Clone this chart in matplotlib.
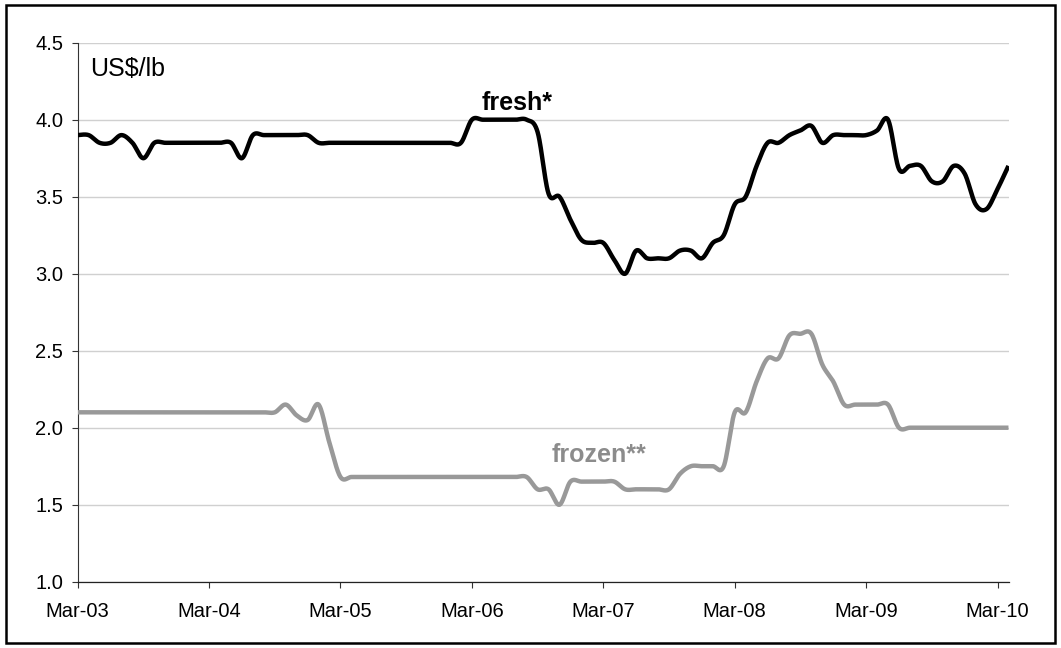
import numpy as np
import matplotlib.pyplot as plt
from matplotlib.patches import Rectangle

plt.rcParams['font.family'] = ['Liberation Sans', 'DejaVu Sans']

# monthly prices, Mar-03 .. Mar-10 (US$/lb)
fresh = [
    3.90, 3.90, 3.85, 3.85, 3.90, 3.85, 3.75, 3.85, 3.85, 3.85,
    3.85, 3.85, 3.85, 3.85, 3.85, 3.75, 3.90, 3.90, 3.90, 3.90,
    3.90, 3.90, 3.85, 3.85, 3.85, 3.85, 3.85, 3.85, 3.85, 3.85,
    3.85, 3.85, 3.85, 3.85, 3.85, 3.85, 4.00, 4.00, 4.00, 4.00,
    4.00, 4.00, 3.92, 3.52, 3.50, 3.35, 3.22, 3.20, 3.20, 3.09,
    3.00, 3.15, 3.10, 3.10, 3.10, 3.15, 3.15, 3.10, 3.20, 3.25,
    3.45, 3.50, 3.70, 3.85, 3.85, 3.90, 3.93, 3.96, 3.85, 3.90,
    3.90, 3.90, 3.90, 3.93, 4.00, 3.68, 3.70, 3.70, 3.60, 3.60,
    3.70, 3.65, 3.45, 3.42, 3.55, 3.70,
]
frozen = [
    2.10, 2.10, 2.10, 2.10, 2.10, 2.10, 2.10, 2.10, 2.10, 2.10,
    2.10, 2.10, 2.10, 2.10, 2.10, 2.10, 2.10, 2.10, 2.10, 2.15,
    2.08, 2.05, 2.15, 1.90, 1.68, 1.68, 1.68, 1.68, 1.68, 1.68,
    1.68, 1.68, 1.68, 1.68, 1.68, 1.68, 1.68, 1.68, 1.68, 1.68,
    1.68, 1.68, 1.60, 1.60, 1.50, 1.65, 1.65, 1.65, 1.65, 1.65,
    1.60, 1.60, 1.60, 1.60, 1.60, 1.70, 1.75, 1.75, 1.75, 1.75,
    2.10, 2.10, 2.30, 2.45, 2.45, 2.60, 2.61, 2.61, 2.41, 2.30,
    2.15, 2.15, 2.15, 2.15, 2.15, 2.00, 2.00, 2.00, 2.00, 2.00,
    2.00, 2.00, 2.00, 2.00, 2.00, 2.00,
]
tick_labels = ['Mar-03', 'Mar-04', 'Mar-05', 'Mar-06',
               'Mar-07', 'Mar-08', 'Mar-09', 'Mar-10']


def smooth(y, n=24):
    """Bezier smoothing through the points (Excel style smoothed line)."""
    x = np.arange(len(y), dtype=float)
    p = np.column_stack([x, np.asarray(y, dtype=float)])
    p = np.vstack([p[0], p, p[-1]])
    t = np.linspace(0, 1, n, endpoint=False)[:, None]
    segs = []
    for i in range(1, len(p) - 2):
        p0, p1, p2, p3 = p[i - 1], p[i], p[i + 1], p[i + 2]
        c1 = p1 + (p2 - p0) / 6
        c2 = p2 - (p3 - p1) / 6
        segs.append((1 - t) ** 3 * p1 + 3 * (1 - t) ** 2 * t * c1
                    + 3 * (1 - t) * t ** 2 * c2 + t ** 3 * p2)
    segs.append(p[-2][None])
    out = np.vstack(segs)
    return out[:, 0], out[:, 1]


fig = plt.figure(figsize=(10.61, 6.48), dpi=100)
ax = fig.add_axes([0.0732, 0.1023, 0.8778, 0.8318])

xf, yf = smooth(fresh)
xz, yz = smooth(frozen)
ax.plot(xz, yz, color='#999999', lw=3.2, solid_capstyle='butt', zorder=3)
ax.plot(xf, yf, color='black', lw=3.2, solid_capstyle='butt', zorder=4)

ax.set_xlim(0, 85.05)
ax.set_ylim(1.0, 4.5)
ax.set_yticks(np.arange(1.0, 4.51, 0.5))
ax.set_yticklabels([f'{v:.1f}' for v in np.arange(1.0, 4.51, 0.5)])
ax.set_xticks(np.arange(0, 85, 12))
ax.set_xticklabels(tick_labels)
ax.tick_params(labelsize=14.5, length=4.5, width=0.8, color='#333333', pad=6)
ax.tick_params(axis='x', pad=10)

ax.grid(axis='y', color='#d0d0d0', lw=1.0)
ax.set_axisbelow(True)
for s in ('top', 'right'):
    ax.spines[s].set_visible(False)
ax.spines['left'].set_color('#333333')
ax.spines['bottom'].set_color('#222222')
ax.spines['left'].set_linewidth(0.8)
ax.spines['bottom'].set_linewidth(0.9)

ax.text(0.013, 0.952, 'US$/lb', transform=ax.transAxes, fontsize=18,
        va='center', ha='left')
ax.text(40.1, 4.11, 'fresh*', fontsize=18, fontweight='bold',
        ha='center', va='center', color='black')
ax.text(47.6, 1.82, 'frozen**', fontsize=18, fontweight='bold',
        ha='center', va='center', color='#8c8c8c')

# outer frame
fig.patches.append(Rectangle((0.0057, 0.0077), 0.9887, 0.9846,
                             transform=fig.transFigure, fill=False,
                             edgecolor='black', lw=1.8))

fig.savefig('out.png', dpi=100)
